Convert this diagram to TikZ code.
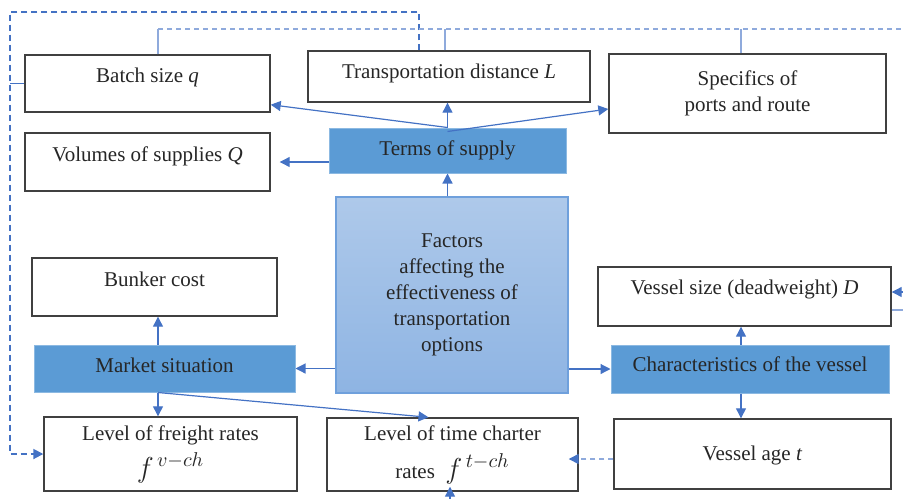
\documentclass[tikz,border=0pt]{standalone}
\usepackage{fontspec}
\setmainfont{Liberation Serif}
\usetikzlibrary{arrows.meta, positioning, calc}

\definecolor{arrowblue}{HTML}{4472C4}
\definecolor{paleblue}{HTML}{8FAADC}
\definecolor{keyblue}{HTML}{5B9BD5}
\definecolor{coretop}{HTML}{AEC9EA}
\definecolor{corebot}{HTML}{8EB4E3}
\definecolor{coreedge}{HTML}{6FA0DC}

\tikzset{
    box/.style={draw=black!75, line width=0.7pt, fill=white, inner xsep=2pt, inner ysep=0pt, text=black!85},
    keybox/.style={fill=keyblue, draw=keyblue!70!white, line width=0.5pt, inner ysep=0pt, text=black!85},
    corebox/.style={top color=coretop, bottom color=corebot, draw=coreedge, line width=0.6pt, align=center, text=black!85},
    link/.style={draw=arrowblue, line width=0.6pt, -{Triangle[length=5pt, width=5pt]}},
    dashlink/.style={draw=paleblue, line width=0.7pt, dash pattern=on 2.5pt off 2pt, -{Triangle[length=5pt, width=5pt, color=arrowblue]}},
    joint/.style={draw=arrowblue, line width=0.6pt},
    darkdash/.style={draw=arrowblue, line width=0.9pt, dash pattern=on 3pt off 2pt, -{Triangle[length=5pt, width=5pt]}},
    lightdash/.style={draw=paleblue, line width=0.7pt, dash pattern=on 2.5pt off 2pt},
    paleline/.style={draw=paleblue, line width=0.7pt}
}

\begin{document}
\begin{tikzpicture}[x=0.5pt, y=-0.5pt, font=\fontsize{10.5}{13}\selectfont]
    \useasboundingbox (0,0) rectangle (903,499);

    % supply side
    \node[box, minimum width=122.5pt, text height=13.5pt, text depth=15pt] (batch) at (147.5,83.5) {Batch size \textit{q}};
    \node[box, minimum width=141pt, text height=13.5pt, text depth=12pt] (dist) at (449,76.5) {Transportation distance \textit{L}};
    \node[box, minimum width=138.5pt, minimum height=39.5pt, align=center] (ports) at (747.5,93.5) {Specifics of\\ports and route};
    \node[box, minimum width=122.5pt, text height=14pt, text depth=15pt] (volumes) at (147.5,162) {Volumes of supplies \textit{Q}};
    \node[keybox, minimum width=118.5pt, text height=13.5pt, text depth=9pt] (terms) at (447.5,150.5) {Terms of supply};

    % centre
    \node[corebox, minimum width=116pt, minimum height=98pt] (factors) at (452,295) {Factors\\affecting the\\effectiveness of\\transportation\\options};

    % market side
    \node[box, minimum width=122.5pt, text height=14pt, text depth=15pt] (bunker) at (154.5,287) {Bunker cost};
    \node[keybox, minimum width=130.5pt, text height=13.5pt, text depth=10pt] (market) at (164.5,368.5) {Market situation};
    \node[box, minimum width=126.5pt, minimum height=37pt, align=center] (freight) at (170.5,454) {Level of freight rates\\[3pt]{\fontsize{14}{14}\selectfont $f^{\,v-ch}$}};
    \node[box, minimum width=125.5pt, minimum height=36.5pt, align=center] (timech) at (452.5,454.5) {Level of time charter\\[6pt]rates\ \ {\fontsize{14}{14}\selectfont $f^{\,t-ch}$}};

    % vessel side
    \node[box, minimum width=146.5pt, text height=13.5pt, text depth=16pt] (size) at (744.5,296.5) {Vessel size (deadweight) \textit{D}};
    \node[keybox, minimum width=139pt, text height=13pt, text depth=11pt] (vchar) at (750,369) {Characteristics of the vessel};
    \node[box, minimum width=138.5pt, text height=20.5pt, text depth=14.5pt] (age) at (752.5,454) {Vessel age \textit{t}};

    % free ends
    \coordinate (railL) at (158,29);
    \coordinate (railR) at (903,29);
    \coordinate (rimA) at (903,292);
    \coordinate (rimB) at (903,310);
    \coordinate (tcfoot) at (450,499);
    \coordinate (agein) at ([yshift=-2.5pt]age.west);

    % terms of supply
    \draw[link] (terms.north) -- (terms.north |- dist.south);
    \draw[link] (terms.north) -- ([yshift=4pt]batch.south east);
    \draw[link] ([yshift=-2pt]terms.north) -- ([yshift=-7.75pt]ports.west);
    \draw[link] (terms.west |- volumes.east) -- ([xshift=4.5pt]volumes.east);

    % factors
    \draw[link] (factors.north -| terms.south) -- (terms.south);
    \draw[link] (factors.west |- market.east) -- (market.east);
    \draw[link] (factors.east |- vchar.west) -- (vchar.west);

    % market situation
    \draw[link] ([xshift=-3.25pt]market.north) -- ($(bunker.south)+(3.5,0)$);
    \draw[link] ([xshift=-3.25pt]market.south) -- ($(freight.north)+(-12.5,0)$);
    \draw[link] ([xshift=-3.25pt]market.south) -- ([xshift=-12pt]timech.north);

    % vessel
    \draw[link] ([xshift=-4.5pt]vchar.north) -- ($(size.south)+(-3.5,0)$);
    \draw[link] ([xshift=-4.5pt]vchar.south) -- ($(age.north)+(-11.5,0)$);
    \draw[dashlink] (agein) -- ($(timech.east |- agein)+(-10,0)$);
    \draw[link] (tcfoot) -- ($(timech.south)+(-2.5,-5)$);

    % feedback lines
    \draw[darkdash] ([xshift=-15pt]dist.north) |- (10,12) |- (freight.west);
    \draw[joint] (batch.west) -- (batch.west -| 10,0);
    \draw[paleline] ([xshift=5.25pt]batch.north) -- (railL);
    \draw[lightdash] (railL) -- (railR);
    \draw[paleline] ([xshift=-2pt]dist.north) -- ($(dist.north |- railL)+(-4,0)$);
    \draw[paleline] ([xshift=-3.25pt]ports.north) -- ($(ports.north |- railL)+(-6.5,0)$);
    \draw[link] (rimA) -- ([yshift=2.25pt]size.east);
    \draw[paleline] ([yshift=-6.75pt]size.east) -- (rimB);
\end{tikzpicture}
\end{document}
